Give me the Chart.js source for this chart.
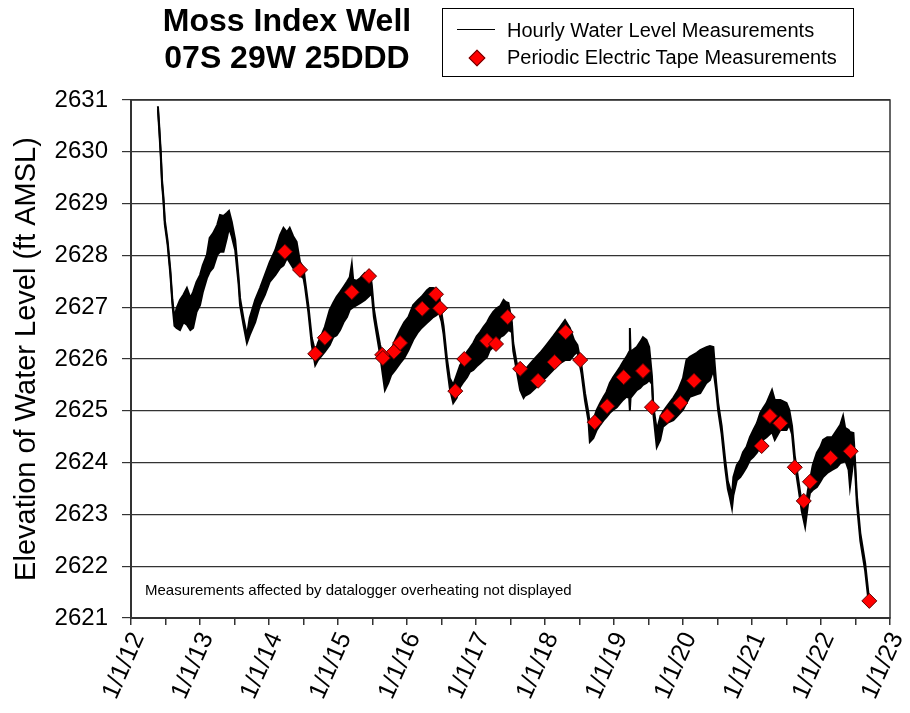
<!DOCTYPE html>
<html>
<head>
<meta charset="utf-8">
<script src="https://cdn.jsdelivr.net/npm/chart.js@4.4.1/dist/chart.umd.min.js"></script>
<style>
  body { margin: 0; background: #fff; font-family: "Liberation Sans", Arial, sans-serif; }
  #wrap { position: relative; width: 910px; height: 713px; }
  #chart { position: absolute; left: 0; top: 0; }
  .title { position: absolute; left: 140px; top: 2px; width: 294px; text-align: center;
    font-weight: bold; font-size: 32px; line-height: 37px; color: #000; }
  .legend { position: absolute; left: 442px; top: 8px; width: 410px; height: 67px;
    border: 1px solid #000; background: #fff; font-size: 20px; color: #000; }
  .legend .row { position: absolute; left: 0; height: 26px; line-height: 26px; }
  .legend .line { position: absolute; left: 14px; top: 12px; width: 38px; height: 0; border-top: 1.5px solid #000; }
  .legend .diamond { position: absolute; left: 28px; top: 8px; width: 10px; height: 10px;
    background: #f00; border: 1px solid #600; transform: rotate(45deg); }
  .legend .text { position: absolute; left: 64px; white-space: nowrap; }
  .note { position: absolute; left: 145px; top: 581px; font-size: 15px; color: #000; white-space: nowrap; }
</style>
</head>
<body>
<div id="wrap">
  <canvas id="chart" width="910" height="713"></canvas>
  <div class="title">Moss Index Well<br>07S 29W 25DDD</div>
  <div class="legend">
    <div class="row" style="top:8px"><span class="line"></span><span class="text">Hourly Water Level Measurements</span></div>
    <div class="row" style="top:35px"><span class="diamond"></span><span class="text">Periodic Electric Tape Measurements</span></div>
  </div>
  <div class="note">Measurements affected by datalogger overheating not displayed</div>
</div>
<script>
// Axis labels
const yearLabels = ['1/1/12', '1/1/13', '1/1/14', '1/1/15', '1/1/16', '1/1/17',
  '1/1/18', '1/1/19', '1/1/20', '1/1/21', '1/1/22', '1/1/23'];
const yTitle = 'Elevation of Water Level (ft AMSL)';

// Hourly record, read as the lower and upper edge of the daily-noise band (decimal year, ft)
const hourlyYears = [
  2012.39, 2012.41, 2012.43, 2012.45, 2012.47, 2012.49, 2012.53, 2012.57, 2012.60, 2012.63,
  2012.66, 2012.71, 2012.76, 2012.81, 2012.86, 2012.90, 2012.95, 2013.00, 2013.04, 2013.10,
  2013.14, 2013.19, 2013.25, 2013.29, 2013.34, 2013.39, 2013.42, 2013.46, 2013.51, 2013.56,
  2013.58, 2013.63, 2013.68, 2013.72, 2013.80, 2013.87, 2013.94, 2014.01, 2014.09, 2014.16,
  2014.21, 2014.26, 2014.30, 2014.35, 2014.40, 2014.45, 2014.50, 2014.52, 2014.57, 2014.62,
  2014.67, 2014.71, 2014.76, 2014.81, 2014.88, 2014.93, 2014.98, 2015.03, 2015.08, 2015.13,
  2015.17, 2015.20, 2015.22, 2015.27, 2015.32, 2015.39, 2015.47, 2015.49, 2015.52, 2015.56,
  2015.61, 2015.65, 2015.68, 2015.73, 2015.77, 2015.83, 2015.90, 2015.96, 2016.02, 2016.09,
  2016.16, 2016.21, 2016.29, 2016.33, 2016.38, 2016.43, 2016.46, 2016.50, 2016.53, 2016.58,
  2016.62, 2016.67, 2016.72, 2016.77, 2016.82, 2016.87, 2016.91, 2016.96, 2017.01, 2017.06,
  2017.11, 2017.16, 2017.20, 2017.25, 2017.30, 2017.35, 2017.40, 2017.43, 2017.47, 2017.52,
  2017.54, 2017.59, 2017.64, 2017.69, 2017.71, 2017.78, 2017.86, 2017.93, 2018.02, 2018.12,
  2018.22, 2018.29, 2018.36, 2018.42, 2018.47, 2018.53, 2018.58, 2018.63, 2018.65, 2018.70,
  2018.75, 2018.80, 2018.85, 2018.89, 2018.94, 2018.99, 2019.04, 2019.09, 2019.13, 2019.18,
  2019.22, 2019.23, 2019.24, 2019.33, 2019.38, 2019.42, 2019.47, 2019.51, 2019.55, 2019.57,
  2019.62, 2019.67, 2019.71, 2019.78, 2019.86, 2019.93, 2020.00, 2020.05, 2020.10, 2020.20,
  2020.25, 2020.34, 2020.39, 2020.44, 2020.48, 2020.51, 2020.56, 2020.61, 2020.65, 2020.68,
  2020.71, 2020.73, 2020.78, 2020.83, 2020.87, 2020.92, 2020.97, 2021.02, 2021.07, 2021.12,
  2021.16, 2021.21, 2021.29, 2021.33, 2021.41, 2021.50, 2021.54, 2021.58, 2021.62, 2021.67,
  2021.72, 2021.77, 2021.81, 2021.84, 2021.88, 2021.94, 2021.99, 2022.03, 2022.09, 2022.16,
  2022.23, 2022.28, 2022.32, 2022.35, 2022.40, 2022.42, 2022.47, 2022.49, 2022.52, 2022.57,
  2022.64, 2022.69
];
const hourlyLow = [
  2630.82, 2630.40, 2629.95, 2629.37, 2629.05, 2628.60, 2628.21, 2627.64, 2627.06, 2626.64,
  2626.60, 2626.56, 2626.71, 2626.66, 2626.56, 2626.60, 2626.91, 2627.04, 2627.29, 2627.56,
  2627.68, 2627.76, 2628.01, 2628.07, 2628.07, 2628.34, 2628.53, 2628.37, 2628.10, 2627.43,
  2627.04, 2626.66, 2626.31, 2626.46, 2626.71, 2627.04, 2627.24, 2627.49, 2627.62, 2627.76,
  2627.81, 2627.95, 2627.87, 2627.76, 2627.81, 2627.62, 2627.56, 2627.41, 2626.91, 2626.27,
  2625.88, 2625.98, 2626.06, 2626.14, 2626.27, 2626.42, 2626.46, 2626.56, 2626.71, 2626.81,
  2626.95, 2626.98, 2627.00, 2627.04, 2627.08, 2627.14, 2627.24, 2627.24, 2626.81, 2626.48,
  2626.08, 2625.69, 2625.40, 2625.54, 2625.69, 2625.79, 2625.92, 2626.02, 2626.17, 2626.37,
  2626.52, 2626.60, 2626.70, 2626.75, 2626.81, 2626.85, 2626.91, 2626.73, 2626.48, 2625.85,
  2625.44, 2625.15, 2625.25, 2625.46, 2625.56, 2625.65, 2625.75, 2625.79, 2625.86, 2625.92,
  2625.98, 2626.04, 2626.17, 2626.23, 2626.27, 2626.42, 2626.46, 2626.50, 2626.56, 2626.52,
  2626.15, 2625.77, 2625.40, 2625.25, 2625.29, 2625.34, 2625.44, 2625.54, 2625.65, 2625.79,
  2625.92, 2625.98, 2625.98, 2626.08, 2626.14, 2625.71, 2625.19, 2624.80, 2624.40, 2624.47,
  2624.63, 2624.73, 2624.82, 2624.88, 2624.96, 2625.02, 2625.07, 2625.15, 2625.21, 2625.27,
  2625.25, 2625.00, 2625.25, 2625.40, 2625.44, 2625.50, 2625.54, 2625.59, 2625.52, 2624.94,
  2624.30, 2624.44, 2624.69, 2624.77, 2624.82, 2624.92, 2625.02, 2625.15, 2625.27, 2625.32,
  2625.34, 2625.54, 2625.59, 2625.79, 2625.40, 2625.00, 2624.55, 2623.91, 2623.49, 2623.32,
  2623.12, 2623.37, 2623.66, 2623.72, 2623.80, 2623.91, 2624.05, 2624.11, 2624.19, 2624.30,
  2624.44, 2624.49, 2624.59, 2624.44, 2624.63, 2624.63, 2624.73, 2624.55, 2623.97, 2623.53,
  2623.07, 2622.76, 2623.18, 2623.41, 2623.47, 2623.53, 2623.63, 2623.72, 2623.80, 2623.86,
  2623.91, 2623.99, 2624.01, 2624.05, 2623.86, 2623.53, 2624.05, 2623.97, 2623.20, 2622.49,
  2621.91, 2621.31
];
const hourlyHigh = [
  2630.88, 2630.48, 2630.03, 2629.45, 2629.13, 2628.68, 2628.29, 2627.72, 2627.14, 2626.79,
  2626.98, 2627.14, 2627.24, 2627.37, 2627.18, 2627.29, 2627.49, 2627.62, 2627.81, 2628.01,
  2628.34, 2628.43, 2628.59, 2628.78, 2628.76, 2628.82, 2628.86, 2628.65, 2628.30, 2627.56,
  2627.18, 2626.79, 2626.45, 2626.79, 2627.14, 2627.37, 2627.62, 2627.87, 2628.10, 2628.39,
  2628.53, 2628.45, 2628.53, 2628.37, 2628.26, 2627.87, 2627.76, 2627.54, 2627.04, 2626.41,
  2626.14, 2626.31, 2626.46, 2626.62, 2626.95, 2627.08, 2627.20, 2627.29, 2627.39, 2627.49,
  2627.58, 2627.83, 2627.53, 2627.51, 2627.56, 2627.66, 2627.62, 2627.43, 2626.97, 2626.64,
  2626.27, 2626.08, 2625.88, 2625.98, 2626.17, 2626.37, 2626.56, 2626.71, 2626.81, 2627.04,
  2627.14, 2627.20, 2627.33, 2627.37, 2627.37, 2627.35, 2627.29, 2626.89, 2626.64, 2626.00,
  2625.63, 2625.50, 2625.69, 2625.88, 2625.98, 2626.14, 2626.21, 2626.31, 2626.44, 2626.52,
  2626.62, 2626.71, 2626.81, 2626.91, 2626.98, 2627.02, 2627.14, 2627.10, 2627.08, 2626.71,
  2626.31, 2625.92, 2625.69, 2625.75, 2625.79, 2625.90, 2626.02, 2626.12, 2626.27, 2626.44,
  2626.62, 2626.75, 2626.60, 2626.37, 2626.27, 2625.86, 2625.34, 2624.96, 2624.73, 2624.82,
  2625.02, 2625.15, 2625.27, 2625.36, 2625.54, 2625.65, 2625.75, 2625.85, 2625.94, 2626.04,
  2626.14, 2626.60, 2626.14, 2626.23, 2626.33, 2626.42, 2626.37, 2626.23, 2625.67, 2625.09,
  2624.63, 2624.88, 2624.98, 2625.11, 2625.25, 2625.40, 2625.63, 2625.98, 2626.04, 2626.12,
  2626.17, 2626.23, 2626.25, 2626.23, 2625.56, 2625.15, 2624.71, 2624.07, 2623.64, 2623.51,
  2623.37, 2623.72, 2623.95, 2624.05, 2624.20, 2624.30, 2624.49, 2624.63, 2624.76, 2624.96,
  2625.05, 2625.15, 2625.40, 2625.21, 2625.21, 2625.15, 2625.02, 2624.71, 2624.13, 2623.68,
  2623.22, 2623.09, 2623.47, 2623.66, 2623.95, 2624.19, 2624.30, 2624.44, 2624.49, 2624.49,
  2624.63, 2624.73, 2624.90, 2624.67, 2624.63, 2624.59, 2624.57, 2624.13, 2623.36, 2622.64,
  2622.06, 2621.44
];

// Periodic electric tape measurements
const tapeYears = [
  2014.23, 2014.45, 2014.67, 2014.81, 2015.20, 2015.45, 2015.64, 2015.65, 2015.81, 2015.90,
  2016.22, 2016.42, 2016.48, 2016.70, 2016.83, 2017.16, 2017.29, 2017.46, 2017.64, 2017.90,
  2018.14, 2018.30, 2018.51, 2018.72, 2018.90, 2019.14, 2019.42, 2019.55, 2019.77, 2019.96,
  2020.16, 2021.14, 2021.26, 2021.41, 2021.62, 2021.75, 2021.84, 2022.14, 2022.43, 2022.70
];
const tapeLevels = [
  2628.07, 2627.72, 2626.10, 2626.41, 2627.29, 2627.60, 2626.08, 2626.02, 2626.14, 2626.31,
  2626.97, 2627.25, 2626.98, 2625.38, 2626.00, 2626.35, 2626.29, 2626.81, 2625.81, 2625.58,
  2625.94, 2626.52, 2625.98, 2624.78, 2625.09, 2625.65, 2625.77, 2625.07, 2624.90, 2625.15,
  2625.58, 2624.32, 2624.90, 2624.76, 2623.91, 2623.26, 2623.63, 2624.09, 2624.22, 2621.33
];

const toPoints = (xs, ys) => xs.map((x, i) => ({ x: x, y: ys[i] }));

// Outline around the plot area
const frame = {
  id: 'frame',
  beforeDatasetsDraw(chart) {
    const { ctx, chartArea: a } = chart;
    ctx.save();
    ctx.strokeStyle = '#333';
    ctx.lineWidth = 1.5;
    ctx.strokeRect(a.left, a.top, a.right - a.left, a.bottom - a.top);
    ctx.restore();
  }
};

const ctx = document.getElementById('chart').getContext('2d');
new Chart(ctx, {
  data: {
    datasets: [
      {
        type: 'scatter',
        label: 'Periodic Electric Tape Measurements',
        data: toPoints(tapeYears, tapeLevels),
        pointStyle: 'rectRot',
        pointRadius: 7.5,
        backgroundColor: '#ff0000',
        borderColor: '#5a0000',
        borderWidth: 1,
        order: 0
      },
      {
        type: 'line',
        label: 'Hourly Water Level Measurements',
        data: toPoints(hourlyYears, hourlyHigh),
        borderColor: '#000',
        borderWidth: 2,
        backgroundColor: '#000',
        fill: '+1',
        pointRadius: 0,
        tension: 0,
        order: 1
      },
      {
        type: 'line',
        label: 'hourly-low',
        data: toPoints(hourlyYears, hourlyLow),
        borderColor: '#000',
        borderWidth: 2,
        pointRadius: 0,
        tension: 0,
        fill: false,
        order: 2
      }
    ]
  },
  options: {
    responsive: false,
    animation: false,
    layout: { padding: { left: 0, top: 100, right: 20, bottom: 0 } },
    plugins: {
      legend: { display: false },
      tooltip: { enabled: false }
    },
    scales: {
      x: {
        type: 'linear',
        min: 2012,
        max: 2023,
        afterFit(scale) {
          scale.height = 95;
          scale.paddingLeft = 0;
          scale.paddingRight = 0;
        },
        ticks: {
          stepSize: 0.5,
          autoSkip: false,
          minRotation: 66,
          maxRotation: 66,
          padding: 3,
          labelOffset: 7,
          color: '#000',
          font: { family: 'Liberation Sans', size: 25 },
          callback(v) {
            const k = Math.round(v);
            return Math.abs(v - k) < 1e-6 ? yearLabels[k - 2012] : '';
          }
        },
        grid: { drawOnChartArea: false, drawTicks: true, tickLength: 7, color: '#333', lineWidth: 1.5 },
        border: { display: true, color: '#333', width: 2 }
      },
      y: {
        type: 'linear',
        min: 2621,
        max: 2631,
        afterFit(scale) {
          scale.width = 131;
          scale.paddingTop = 0;
          scale.paddingBottom = 0;
        },
        ticks: {
          stepSize: 1,
          padding: 14,
          color: '#000',
          font: { family: 'Liberation Sans', size: 24 },
          callback: (v) => String(v)
        },
        grid: { color: '#333', lineWidth: 1.2, tickLength: 9 },
        border: { display: true, color: '#333', width: 2 },
        title: {
          display: true,
          text: yTitle,
          color: '#000',
          padding: { top: 10, bottom: 0 },
          font: { family: 'Liberation Sans', size: 29 }
        }
      }
    }
  },
  plugins: [frame]
});
</script>
</body>
</html>
